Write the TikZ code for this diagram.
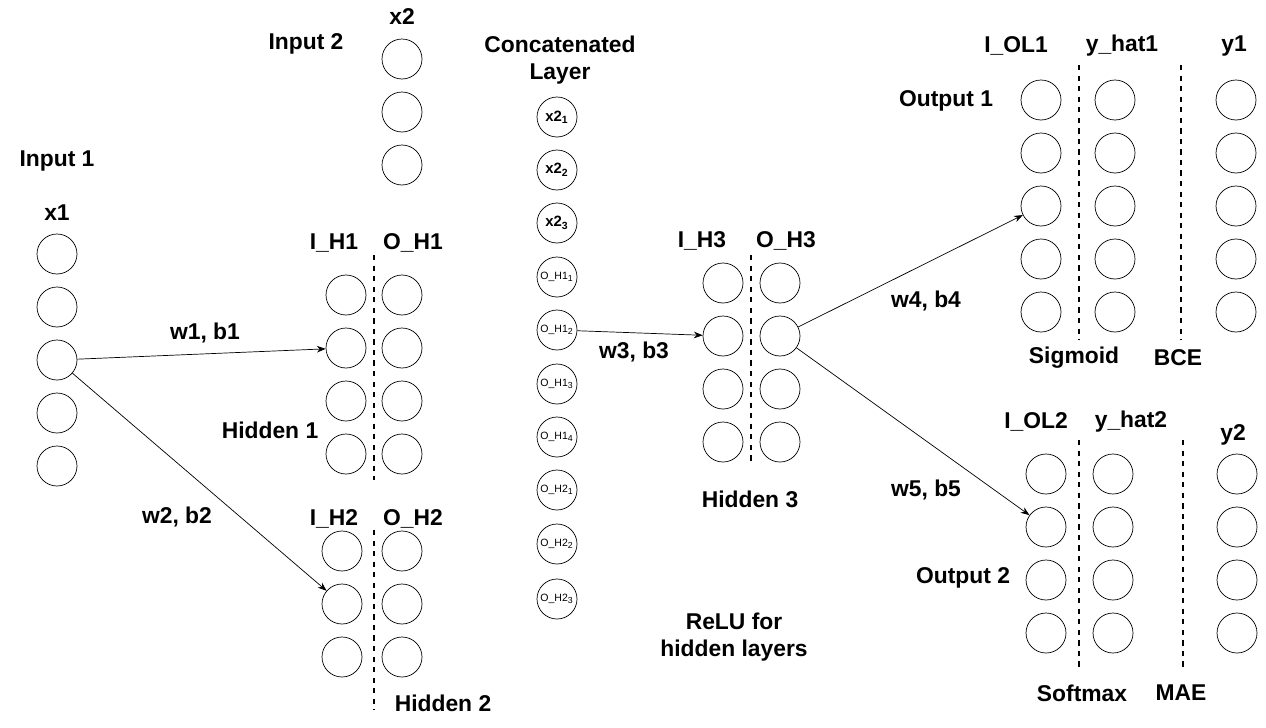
\documentclass[tikz,border=0pt]{standalone}
\usepackage{fontspec}
\setmainfont{Liberation Sans}
\usetikzlibrary{arrows.meta}
\tikzset{
	neuron/.style={circle, draw, minimum size=0.8cm, inner sep=0pt},
	small/.style={neuron, font=\fontsize{8.5}{9}\selectfont\bfseries},
	tiny/.style={neuron, font=\fontsize{6}{7}\selectfont},
	lbl/.style={font=\fontsize{13}{15}\selectfont\bfseries, align=center},
	sep/.style={dashed, thick},
	conn/.style={-{Stealth[length=5pt]}, thin}
}
\begin{document}
\begin{tikzpicture}[x=0.02cm, y=-0.02cm]
	\useasboundingbox (0,0) rectangle (1266,727);
% input layers
	\foreach \i/\y in {1/254,2/307,3/360,4/413,5/466}
		\node [neuron] (x1\i) at (57,\y) {};
	\foreach \i/\y in {1/59,2/112,3/165}
		\node [neuron] (x2\i) at (402,\y) {};
% hidden 1 and 2
	\foreach \i/\y in {1/295,2/348,3/401,4/454}
	{
		\node [neuron] (ih1\i) at (346,\y) {};
		\node [neuron] (oh1\i) at (402,\y) {};
	}
	\foreach \i/\y in {1/551,2/604,3/657}
	{
		\node [neuron] (ih2\i) at (342,\y) {};
		\node [neuron] (oh2\i) at (402,\y) {};
	}
	\draw [sep] (374,255) -- (374,480);
	\draw [sep] (374,530) -- (374,710);
% concatenated layer
	\foreach \i/\y in {1/117,2/170,3/223}
		\node [small] (cx\i) at (557,\y) {x2\textsubscript{\i}};
	\foreach \i/\y in {1/277,2/330,3/384,4/437}
		\node [tiny] (ca\i) at (557,\y) {O\_H1\textsubscript{\i}};
	\foreach \i/\y in {1/490,2/544,3/599}
		\node [tiny] (cb\i) at (557,\y) {O\_H2\textsubscript{\i}};
% hidden 3
	\foreach \i/\y in {1/283,2/336,3/389,4/442}
	{
		\node [neuron] (ih3\i) at (723,\y) {};
		\node [neuron] (oh3\i) at (780,\y) {};
	}
	\draw [sep] (751,255) -- (751,465);
% outputs
	\foreach \i/\y in {1/100,2/153,3/206,4/259,5/312}
	{
		\node [neuron] (io1\i) at (1041,\y) {};
		\node [neuron] (yh1\i) at (1115,\y) {};
		\node [neuron] (yo1\i) at (1236,\y) {};
	}
	\draw [sep] (1079,65) -- (1079,340);
	\draw [sep] (1181,65) -- (1181,340);
	\foreach \i/\y in {1/474,2/527,3/580,4/633}
	{
		\node [neuron] (io2\i) at (1046,\y) {};
		\node [neuron] (yh2\i) at (1113,\y) {};
		\node [neuron] (yo2\i) at (1237,\y) {};
	}
	\draw [sep] (1079,440) -- (1079,670);
	\draw [sep] (1183,440) -- (1183,670);
% labels
	\node [lbl] at (306,44) {Input 2};
	\node [lbl] at (402,17) {x2};
	\node [lbl] at (560,60) {Concatenated\\Layer};
	\node [lbl] at (57,161) {Input 1};
	\node [lbl] at (57,213) {x1};
	\node [lbl] at (334,243) {I\_H1};
	\node [lbl] at (413,243) {O\_H1};
	\node [lbl] at (270,430) {Hidden 1};
	\node [lbl] at (334,519) {I\_H2};
	\node [lbl] at (413,519) {O\_H2};
	\node [lbl] at (443,703) {Hidden 2};
	\node [lbl] at (702,241) {I\_H3};
	\node [lbl] at (786,241) {O\_H3};
	\node [lbl] at (750,499) {Hidden 3};
	\node [lbl] at (734,637) {ReLU for\\hidden layers};
	\node [lbl] at (1016,46) {I\_OL1};
	\node [lbl] at (1122,46) {y\_hat1};
	\node [lbl] at (1234,46) {y1};
	\node [lbl] at (946,101) {Output 1};
	\node [lbl] at (1074,358) {Sigmoid};
	\node [lbl] at (1178,358) {BCE};
	\node [lbl] at (1036,422) {I\_OL2};
	\node [lbl] at (1131,422) {y\_hat2};
	\node [lbl] at (1233,435) {y2};
	\node [lbl] at (963,578) {Output 2};
	\node [lbl] at (1082,693) {Softmax};
	\node [lbl] at (1181,693) {MAE};
% connections
	\draw [conn] (x13) -- (ih12);
	\node [lbl] at (205,333) {w1, b1};
	\draw [conn] (x13) -- (ih22);
	\node [lbl] at (177,517) {w2, b2};
	\draw [conn] (ca2) -- (ih32);
	\node [lbl] at (634,352) {w3, b3};
	\draw [conn] (oh32) -- (io13);
	\node [lbl] at (926,301) {w4, b4};
	\draw [conn] (oh32) -- (io22);
	\node [lbl] at (926,490) {w5, b5};
\end{tikzpicture}
\end{document}
